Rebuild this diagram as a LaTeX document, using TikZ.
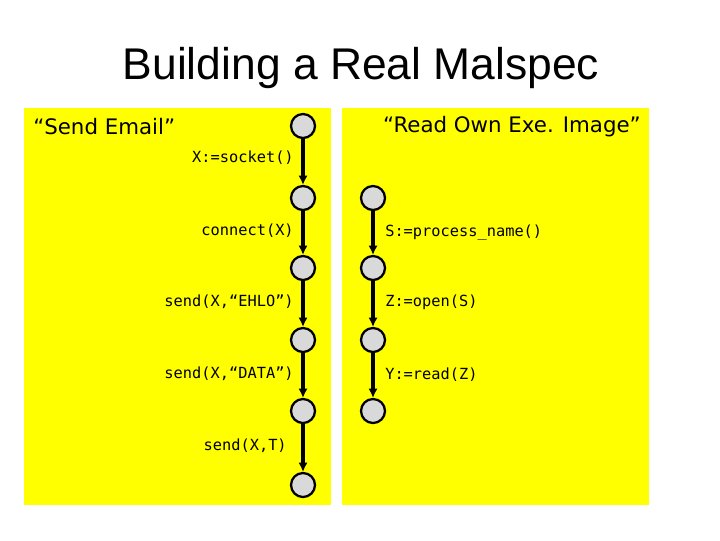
\documentclass[tikz,border=0pt]{standalone}
\usepackage{fontspec}
\setmainfont{Liberation Sans}
\newfontfamily\verd{DejaVu Sans}
\newfontfamily\mono{DejaVu Sans Mono}
\usetikzlibrary{arrows.meta}
\definecolor{panelyellow}{RGB}{255,255,0}
\definecolor{stategray}{RGB}{217,217,217}
\begin{document}
\begin{tikzpicture}[x=0.75pt,y=-0.75pt,
  panel/.style={fill=panelyellow,draw=none},
  st/.style={circle,draw=black,fill=stategray,line width=1.7pt,minimum size=18pt,inner sep=0pt},
  tr/.style={line width=2.8pt,-{Latex[length=7pt,width=7pt]}},
  lab/.style={font=\mono\fontsize{11.5}{13}\selectfont,inner sep=0pt},
  head/.style={font=\verd\fontsize{16}{18}\selectfont,inner sep=0pt}]
\useasboundingbox (0,0) rectangle (720,540);
\node[font=\fontsize{33.3}{38}\selectfont,inner sep=0pt] (title) at (361,68) {Building a Real Malspec};
\fill[panel] (24,108) rectangle (331,505);
\fill[panel] (342,108) rectangle (649,505);
\node[head,anchor=west] (h1) at (33,127) {“Send Email”};
\node[head,anchor=east] (h2) at (641,127) {“Read Own Exe. Image”};
% left chain
\node[st] (a1) at (303,126) {};
\node[st] (a2) at (303,198) {};
\node[st] (a3) at (303,268) {};
\node[st] (a4) at (303,340) {};
\node[st] (a5) at (303,411) {};
\node[st] (a6) at (303,485) {};
\draw[tr] (a1) -- (a2);
\draw[tr] (a2) -- (a3);
\draw[tr] (a3) -- (a4);
\draw[tr] (a4) -- (a5);
\draw[tr] (a5) -- (a6);
\node[lab,anchor=east] (l1) at (294,158) {X:=socket()};
\node[lab,anchor=east] (l2) at (294,231) {connect(X)};
\node[lab,anchor=east] (l3) at (294,302) {send(X,“EHLO”)};
\node[lab,anchor=east] (l4) at (294,374) {send(X,“DATA”)};
\node[lab,anchor=east] (l5) at (287,446) {send(X,T)};
% right chain
\node[st] (b1) at (373,198) {};
\node[st] (b2) at (373,268) {};
\node[st] (b3) at (373,340) {};
\node[st] (b4) at (373,411) {};
\draw[tr] (b1) -- (b2);
\draw[tr] (b2) -- (b3);
\draw[tr] (b3) -- (b4);
\node[lab,anchor=west] (r1) at (385,232) {S:=process\_name()};
\node[lab,anchor=west] (r2) at (385,302) {Z:=open(S)};
\node[lab,anchor=west] (r3) at (385,375) {Y:=read(Z)};
\end{tikzpicture}
\end{document}
